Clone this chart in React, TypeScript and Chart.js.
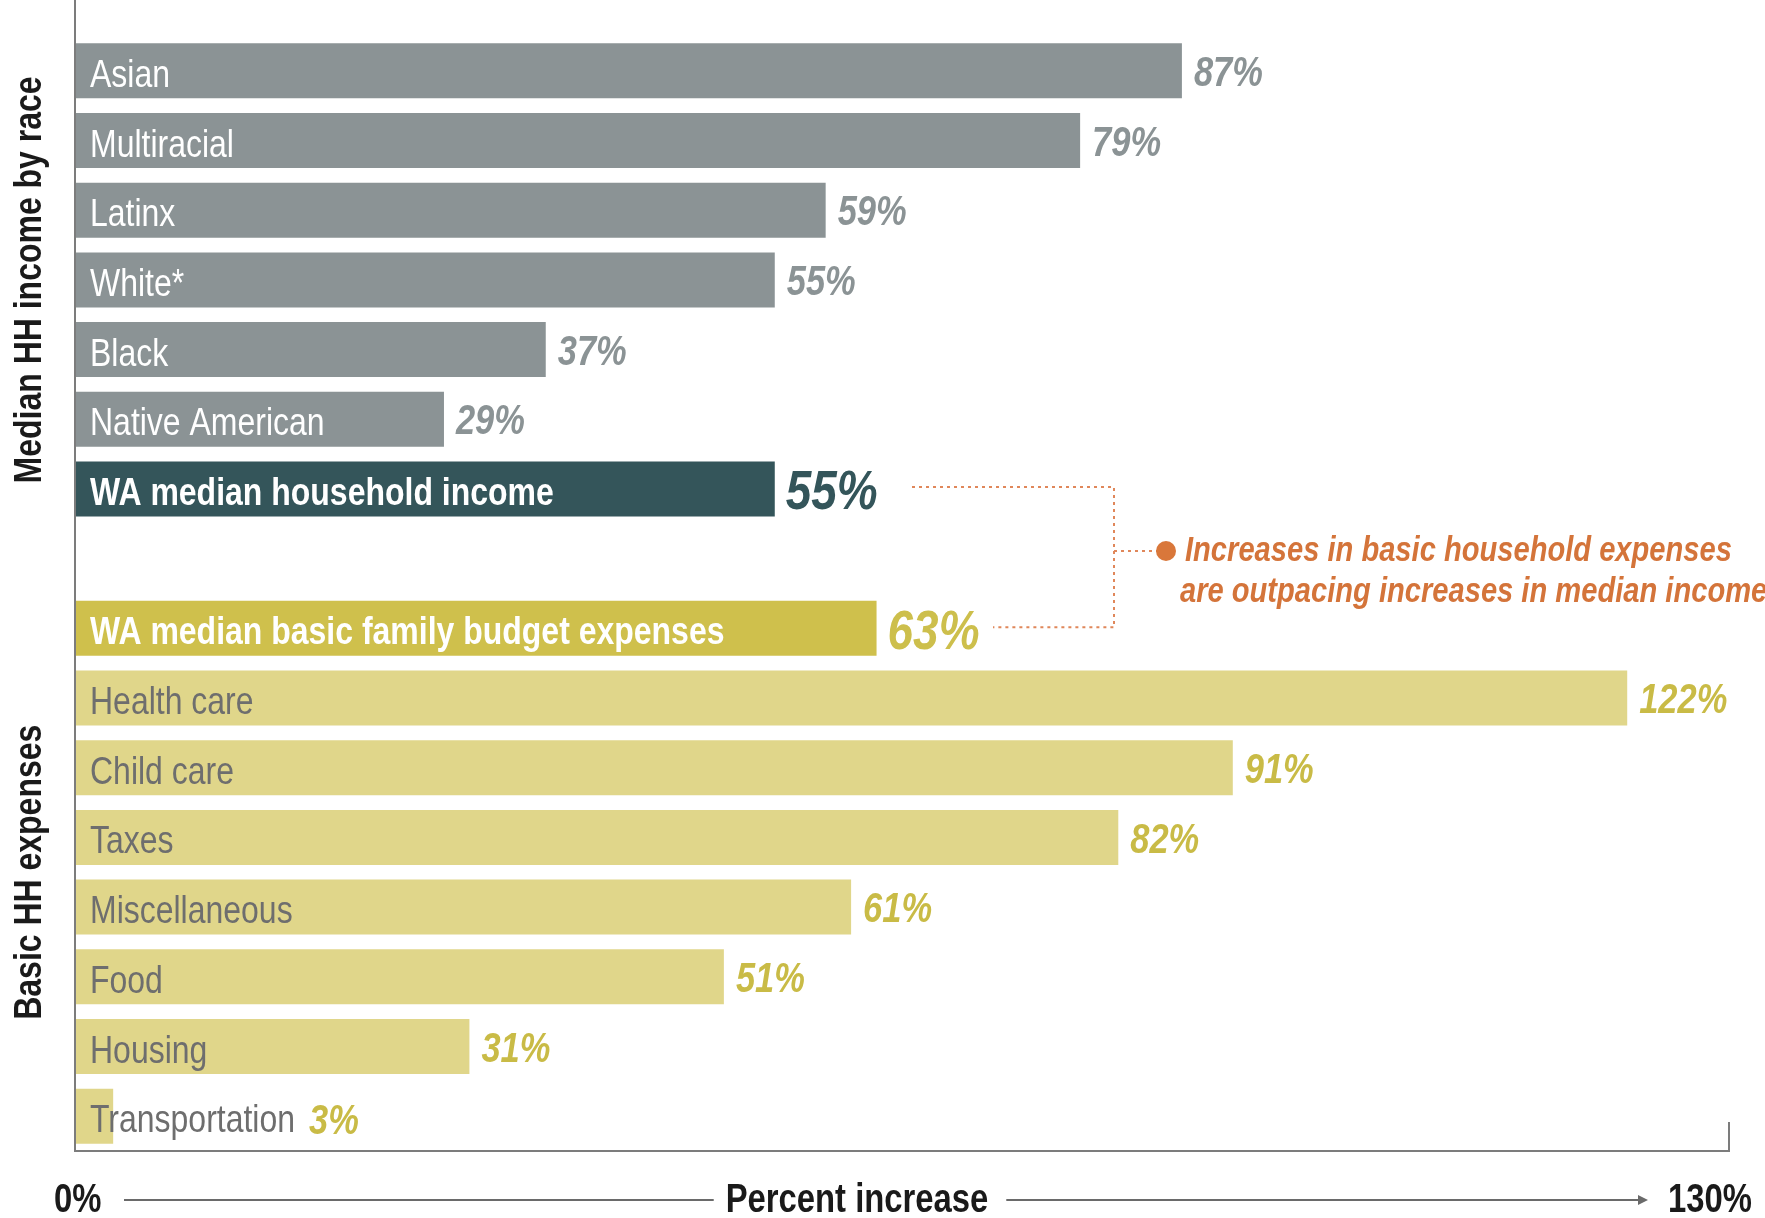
import React, { useEffect, useRef } from "react";
import { Chart, registerables } from "chart.js";

Chart.register(...registerables);

// ---------- data ----------
const raceCategories = ["Asian", "Multiracial", "Latinx", "White*", "Black", "Native American"];
const raceValues = [87, 79, 59, 55, 37, 29];
const incomeCategory = "WA median household income";
const incomeValue = 55;
const budgetCategory = "WA median basic family budget expenses";
const budgetValue = 63;
const expenseCategories = ["Health care", "Child care", "Taxes", "Miscellaneous", "Food", "Housing", "Transportation"];
const expenseValues = [122, 91, 82, 61, 51, 31, 3];
const xMin = 0;
const xMax = 130;
const xTickLabels = ["0%", "130%"];
const xAxisTitle = "Percent increase";
const groupTitles = ["Median HH income by race", "Basic HH expenses"];
const annotationLines = ["Increases in basic household expenses", "are outpacing increases in median income"];

// ---------- derived table ----------
type Kind = "race" | "income" | "gap" | "budget" | "expense";
const labels: string[] = [...raceCategories, incomeCategory, "", budgetCategory, ...expenseCategories];
const values: (number | null)[] = [...raceValues, incomeValue, null, budgetValue, ...expenseValues];
const kinds: Kind[] = [
  ...raceCategories.map(() => "race" as Kind),
  "income",
  "gap",
  "budget",
  ...expenseCategories.map(() => "expense" as Kind),
];

const FAMILY = '"Liberation Sans", Arial, Helvetica, sans-serif';
const SX = 0.82; // horizontal condensing factor

const STYLE: Record<Kind, { bar: string; text: string; value: string; bold: boolean; valueSize: number }> = {
  race: { bar: "#8B9395", text: "#FFFFFF", value: "#8B9395", bold: false, valueSize: 42 },
  income: { bar: "#34555A", text: "#FFFFFF", value: "#34555A", bold: true, valueSize: 56 },
  gap: { bar: "rgba(0,0,0,0)", text: "#FFFFFF", value: "#FFFFFF", bold: false, valueSize: 42 },
  budget: { bar: "#CFC04C", text: "#FFFFFF", value: "#CDBF4C", bold: true, valueSize: 56 },
  expense: { bar: "#E0D68A", text: "#6E6E6E", value: "#C9BB46", bold: false, valueSize: 42 },
};

function drawText(
  ctx: CanvasRenderingContext2D,
  text: string,
  x: number,
  y: number,
  align: "left" | "right" | "center",
  sx: number = SX
): number {
  ctx.textAlign = "left";
  const w = ctx.measureText(text).width * sx;
  const left = align === "left" ? x : align === "right" ? x - w : x - w / 2;
  ctx.save();
  ctx.translate(left, y);
  ctx.scale(sx, 1);
  ctx.fillText(text, 0, 0);
  ctx.restore();
  return w;
}

const overlayPlugin = {
  id: "overlay",
  afterDatasetsDraw(chart: any) {
    const ctx: CanvasRenderingContext2D = chart.ctx;
    const area = chart.chartArea;
    const meta = chart.getDatasetMeta(0);
    ctx.save();

    // axis frame
    ctx.strokeStyle = "#7C7C7C";
    ctx.lineWidth = 2;
    ctx.beginPath();
    ctx.moveTo(area.left, 0);
    ctx.lineTo(area.left, area.bottom);
    ctx.lineTo(area.right, area.bottom);
    ctx.lineTo(area.right, area.bottom - 29);
    ctx.stroke();

    // bar labels and values
    ctx.textBaseline = "alphabetic";
    labels.forEach((lab, i) => {
      const v = values[i];
      if (v == null) return;
      const k = kinds[i];
      const st = STYLE[k];
      const el: any = meta.data[i];
      const yc = el.y;
      const fs = 39;
      ctx.font = `${st.bold ? "bold " : ""}${fs}px ${FAMILY}`;
      ctx.fillStyle = st.text;
      const tx = el.base + 15;
      const w = drawText(ctx, lab, tx, yc + fs * 0.36 + 2, "left");
      const textEnd = tx + w;

      const vs = st.valueSize;
      ctx.font = `italic bold ${vs}px ${FAMILY}`;
      ctx.fillStyle = st.value;
      const overlap = textEnd + 4 > el.x;
      const vx = overlap ? textEnd + 14 : el.x + (vs > 45 ? 11 : 12);
      drawText(ctx, `${v}%`, vx, yc + vs * 0.36 + (overlap ? 3 : 0), "left");
    });

    // rotated group titles
    const c1 = (meta.data[0].y + meta.data[raceCategories.length].y) / 2;
    const s2 = raceCategories.length + 2;
    const c2 = (meta.data[s2].y + meta.data[labels.length - 1].y) / 2;
    ctx.fillStyle = "#1A1A1A";
    ctx.font = `bold 39px ${FAMILY}`;
    ctx.textBaseline = "middle";
    [c1, c2].forEach((cy, gi) => {
      ctx.save();
      ctx.translate(30, cy);
      ctx.rotate(-Math.PI / 2);
      drawText(ctx, groupTitles[gi], 0, 0, "center");
      ctx.restore();
    });

    // bottom axis labels
    const xs = chart.scales.x;
    const by = 1212;
    ctx.textBaseline = "alphabetic";
    ctx.font = `bold 40px ${FAMILY}`;
    ctx.fillStyle = "#1A1A1A";
    drawText(ctx, xTickLabels[0], xs.getPixelForValue(xMin) - 21, by, "left");
    drawText(ctx, xTickLabels[1], xs.getPixelForValue(xMax) + 23, by, "right");
    const titleX = 857;
    const tw = drawText(ctx, xAxisTitle, titleX, by, "center");

    ctx.strokeStyle = "#6A6A6A";
    ctx.lineWidth = 2;
    const ly = 1200;
    ctx.beginPath();
    ctx.moveTo(124, ly);
    ctx.lineTo(titleX - tw / 2 - 12, ly);
    ctx.moveTo(titleX + tw / 2 + 18, ly);
    ctx.lineTo(1640, ly);
    ctx.stroke();
    ctx.fillStyle = "#6A6A6A";
    ctx.beginPath();
    ctx.moveTo(1648, ly);
    ctx.lineTo(1638, ly - 5);
    ctx.lineTo(1638, ly + 5);
    ctx.closePath();
    ctx.fill();

    // annotation bracket
    const yTop = meta.data[raceCategories.length].y - 2;
    const yBot = meta.data[raceCategories.length + 2].y - 1;
    const bx = 1114;
    const dotY = 551;
    ctx.strokeStyle = "#E0875A";
    ctx.lineWidth = 2;
    ctx.setLineDash([3, 4]);
    ctx.beginPath();
    ctx.moveTo(912, yTop);
    ctx.lineTo(bx, yTop);
    ctx.lineTo(bx, yBot);
    ctx.lineTo(993, yBot);
    ctx.moveTo(bx, dotY);
    ctx.lineTo(1158, dotY);
    ctx.stroke();
    ctx.setLineDash([]);
    ctx.fillStyle = "#D9773A";
    ctx.beginPath();
    ctx.arc(1166, dotY, 10, 0, Math.PI * 2);
    ctx.fill();

    ctx.fillStyle = "#D4743A";
    ctx.font = `italic bold 35.5px ${FAMILY}`;
    ctx.textBaseline = "alphabetic";
    drawText(ctx, annotationLines[0], 1185, 561, "left");
    drawText(ctx, annotationLines[1], 1180, 602, "left");

    ctx.restore();
  },
};

export default function App() {
  const ref = useRef<HTMLCanvasElement | null>(null);
  useEffect(() => {
    if (!ref.current) return;
    const chart = new Chart(ref.current, {
      type: "bar",
      data: {
        labels,
        datasets: [
          {
            data: values as any,
            backgroundColor: kinds.map((k) => STYLE[k].bar),
            borderWidth: 0,
            barPercentage: 0.79,
            categoryPercentage: 1,
          },
        ],
      },
      options: {
        indexAxis: "y",
        animation: false,
        responsive: false,
        maintainAspectRatio: false,
        layout: { padding: { left: 75, right: 36, top: 36, bottom: 67 } },
        plugins: { legend: { display: false }, tooltip: { enabled: false }, title: { display: false } },
        scales: {
          x: { type: "linear", min: xMin, max: xMax, display: false },
          y: { type: "category", display: false, offset: true },
        },
      },
      plugins: [overlayPlugin],
    });
    const fonts = [
      `39px "Liberation Sans"`,
      `bold 39px "Liberation Sans"`,
      `italic bold 39px "Liberation Sans"`,
    ];
    Promise.all(fonts.map((f) => (document as any).fonts.load(f)))
      .then(() => chart.update("none"))
      .catch(() => {});
    return () => chart.destroy();
  }, []);
  return (
    <div style={{ position: "fixed", left: 0, top: 0, width: 1765, height: 1218, background: "#FFFFFF" }}>
      <canvas ref={ref} width={1765} height={1218} style={{ display: "block" }} />
    </div>
  );
}
